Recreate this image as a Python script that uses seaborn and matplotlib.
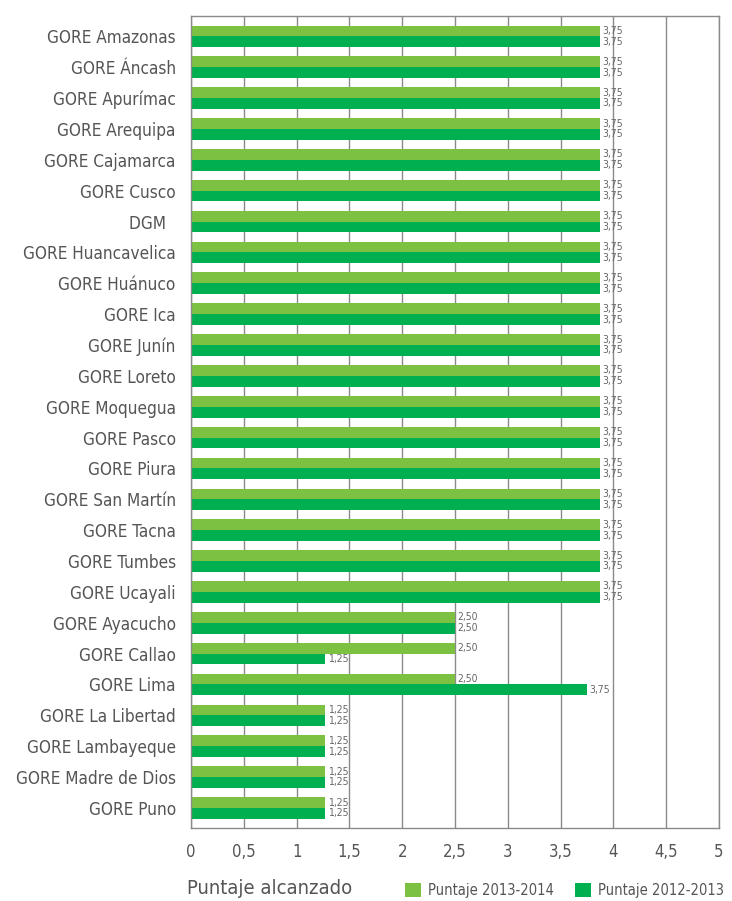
import matplotlib
matplotlib.use("Agg")
import matplotlib.pyplot as plt
import seaborn as sns
import pandas as pd
from matplotlib.patches import Patch

categories = ["GORE Amazonas", "GORE Áncash", "GORE Apurímac", "GORE Arequipa", "GORE Cajamarca",
              "GORE Cusco", "DGM  ", "GORE Huancavelica", "GORE Huánuco", "GORE Ica", "GORE Junín",
              "GORE Loreto", "GORE Moquegua", "GORE Pasco", "GORE Piura", "GORE San Martín",
              "GORE Tacna", "GORE Tumbes", "GORE Ucayali", "GORE Ayacucho", "GORE Callao",
              "GORE Lima", "GORE La Libertad", "GORE Lambayeque", "GORE Madre de Dios", "GORE Puno"]

# bar lengths as drawn in the picture
len_2013_2014 = [3.87]*19 + [2.50, 2.50, 2.50] + [1.27]*4
len_2012_2013 = [3.87]*19 + [2.50, 1.27, 3.75] + [1.27]*4
# printed value labels
lab_2013_2014 = ["3,75"]*19 + ["2,50", "2,50", "2,50"] + ["1,25"]*4
lab_2012_2013 = ["3,75"]*19 + ["2,50", "1,25", "3,75"] + ["1,25"]*4

series = ["Puntaje 2013-2014", "Puntaje 2012-2013"]
colors = ["#7DC142", "#00B050"]
xticks = [0, 0.5, 1, 1.5, 2, 2.5, 3, 3.5, 4, 4.5, 5]
xticklabels = ["0", "0,5", "1", "1,5", "2", "2,5", "3", "3,5", "4", "4,5", "5"]

df = pd.DataFrame({
    "cat": categories * 2,
    "val": len_2013_2014 + len_2012_2013,
    "serie": [series[0]] * len(categories) + [series[1]] * len(categories),
})

sns.set_style("white")
plt.rcParams["font.family"] = ["DejaVu Sans"]
plt.rcParams["font.stretch"] = "condensed"

fig = plt.figure(figsize=(7.32, 9.01), dpi=100)
ax = fig.add_axes([191/732, 1-828/901, (719-191)/732, (828-16)/901])

sns.barplot(data=df, x="val", y="cat", hue="serie", palette=colors, orient="h",
            width=0.7, ax=ax, legend=False, saturation=1, edgecolor="none")

ax.set_xlim(0, 5)
ax.set_ylim(len(categories) - 1 + 0.65, -0.66)
ax.set_xticks(xticks)
ax.set_xticklabels(xticklabels, fontsize=12, color="#555555")
ax.tick_params(axis="x", length=0, pad=11)
ax.tick_params(axis="y", length=0, pad=11, labelsize=12.3, labelcolor="#555555")
ax.set_xlabel("")
ax.set_ylabel("")
for x in xticks:
    ax.axvline(x, color="#8a8a8a", lw=1, zorder=0)
ax.set_axisbelow(True)
for s in ["left", "bottom", "top", "right"]:
    ax.spines[s].set_color("#8a8a8a")
    ax.spines[s].set_linewidth(1)

for cont, labs in zip(ax.containers, [lab_2013_2014, lab_2012_2013]):
    ax.bar_label(cont, labels=labs, padding=2, fontsize=7.5, color="#666666")

fig.text(187/732, 1-889/901, "Puntaje alcanzado", fontsize=14.5, color="#555555", va="center", ha="left")
handles = [Patch(facecolor=c, edgecolor="none") for c in colors]
fig.legend(handles, series, loc="center right", bbox_to_anchor=(737/732, 1-890/901), ncol=2,
           frameon=False, fontsize=10.5, handlelength=1.1, handleheight=1.1, handletextpad=0.5,
           columnspacing=1.4, labelcolor="#555555")

fig.savefig("out.png", dpi=100)
